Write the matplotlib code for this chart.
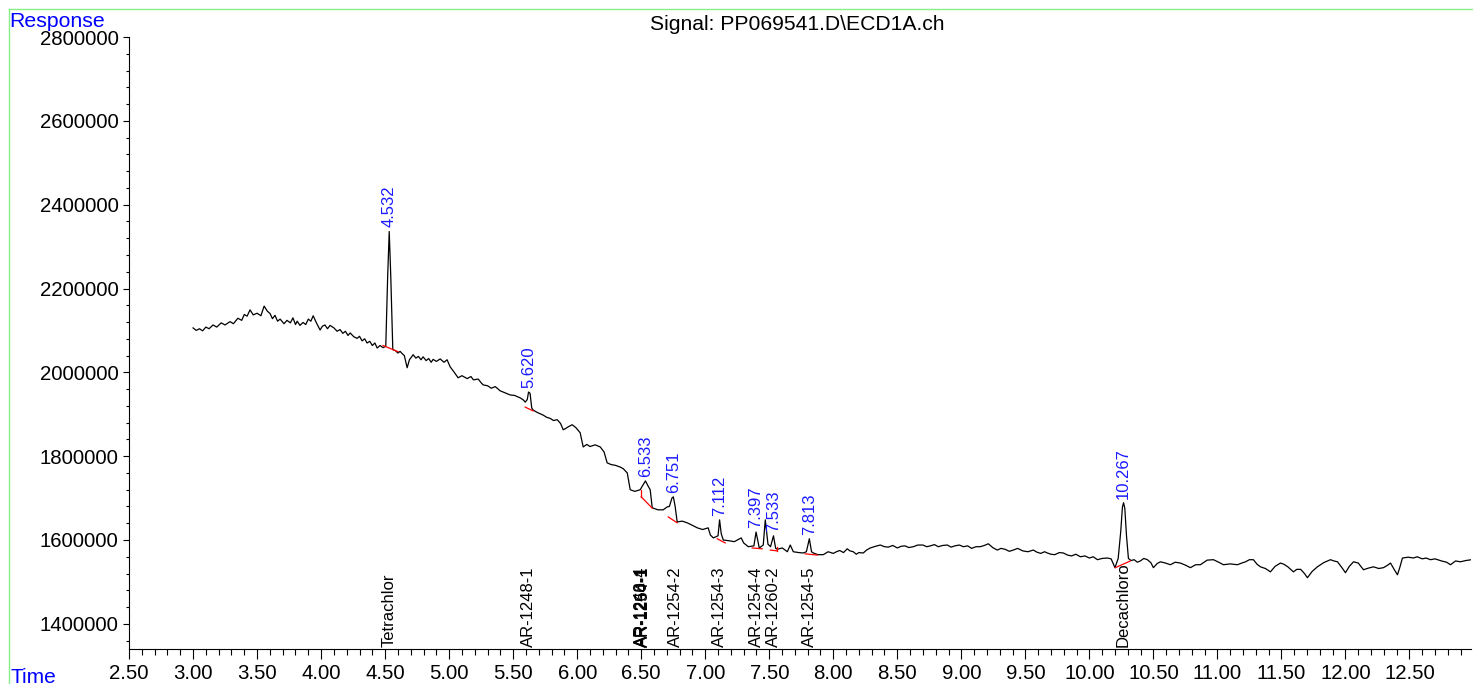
import matplotlib
matplotlib.use("Agg")
import matplotlib.pyplot as plt
from matplotlib.lines import Line2D
from matplotlib.ticker import MultipleLocator, FormatStrFormatter

plt.rcParams["font.family"] = ["Liberation Sans", "DejaVu Sans"]

# chromatogram trace: (retention time min, response in thousands)
trace = [
    (3.000, 2106), (3.025, 2100), (3.050, 2104), (3.075, 2099), (3.100, 2108),
    (3.125, 2104), (3.156, 2113), (3.185, 2108), (3.220, 2118), (3.250, 2113),
    (3.289, 2121), (3.315, 2116), (3.350, 2129), (3.380, 2124), (3.400, 2138),
    (3.422, 2134), (3.445, 2149), (3.470, 2137), (3.500, 2141), (3.530, 2135),
    (3.555, 2158), (3.580, 2146), (3.602, 2140), (3.620, 2128), (3.640, 2136),
    (3.660, 2122), (3.680, 2127), (3.710, 2116), (3.734, 2124), (3.760, 2118),
    (3.780, 2130), (3.800, 2114), (3.813, 2122), (3.835, 2112), (3.859, 2119),
    (3.880, 2114), (3.900, 2127), (3.920, 2122), (3.938, 2135), (3.965, 2117),
    (3.992, 2101), (4.010, 2110), (4.030, 2113), (4.050, 2104), (4.070, 2112),
    (4.100, 2106), (4.125, 2098), (4.148, 2102), (4.170, 2093), (4.190, 2098),
    (4.210, 2088), (4.227, 2094), (4.255, 2085), (4.281, 2081), (4.300, 2086),
    (4.320, 2075), (4.340, 2080), (4.359, 2070), (4.380, 2074), (4.400, 2064),
    (4.420, 2070), (4.438, 2058), (4.460, 2064), (4.484, 2059), (4.505, 2062),
    (4.520, 2230), (4.532, 2336), (4.544, 2230), (4.560, 2054), (4.580, 2052),
    (4.600, 2046), (4.617, 2050), (4.635, 2044), (4.650, 2040), (4.672, 2011),
    (4.690, 2030), (4.719, 2042), (4.740, 2034), (4.760, 2038), (4.780, 2030),
    (4.797, 2037), (4.820, 2028), (4.840, 2033), (4.860, 2024), (4.875, 2031),
    (4.900, 2026), (4.930, 2032), (4.960, 2024), (4.984, 2030), (5.008, 2013),
    (5.040, 2000), (5.070, 1987), (5.100, 1992), (5.141, 1985), (5.170, 1990),
    (5.190, 1982), (5.227, 1984), (5.250, 1975), (5.266, 1970), (5.300, 1968),
    (5.330, 1962), (5.360, 1966), (5.398, 1956), (5.430, 1952), (5.477, 1946),
    (5.510, 1945), (5.555, 1939), (5.580, 1934), (5.594, 1929), (5.610, 1935),
    (5.620, 1953), (5.632, 1950), (5.645, 1915), (5.656, 1910), (5.690, 1904),
    (5.734, 1898), (5.760, 1893), (5.790, 1890), (5.815, 1885), (5.844, 1887),
    (5.870, 1878), (5.891, 1863), (5.910, 1866), (5.930, 1870), (5.961, 1875),
    (5.990, 1868), (6.023, 1856), (6.047, 1822), (6.075, 1828), (6.100, 1823),
    (6.140, 1827), (6.180, 1822), (6.210, 1810), (6.234, 1784), (6.265, 1780),
    (6.300, 1778), (6.336, 1774), (6.360, 1770), (6.391, 1760), (6.414, 1720),
    (6.450, 1716), (6.492, 1720), (6.533, 1741), (6.555, 1728), (6.570, 1720),
    (6.586, 1677), (6.630, 1672), (6.672, 1672), (6.703, 1679), (6.720, 1680),
    (6.740, 1700), (6.751, 1703), (6.765, 1680), (6.781, 1643), (6.820, 1645),
    (6.859, 1641), (6.900, 1635), (6.938, 1629), (6.980, 1625), (7.023, 1629),
    (7.040, 1612), (7.063, 1605), (7.100, 1610), (7.112, 1648), (7.125, 1615),
    (7.141, 1600), (7.190, 1598), (7.227, 1596), (7.281, 1605), (7.300, 1593),
    (7.336, 1584), (7.380, 1586), (7.397, 1619), (7.422, 1581), (7.453, 1588),
    (7.469, 1648), (7.490, 1590), (7.510, 1584), (7.533, 1610), (7.550, 1580),
    (7.563, 1578), (7.602, 1581), (7.641, 1572), (7.664, 1588), (7.688, 1572),
    (7.730, 1570), (7.766, 1569), (7.790, 1572), (7.813, 1603), (7.830, 1572),
    (7.844, 1569), (7.880, 1565), (7.922, 1565), (7.960, 1572), (8.000, 1568),
    (8.025, 1572), (8.050, 1575), (8.080, 1570), (8.109, 1579), (8.130, 1574),
    (8.156, 1572), (8.180, 1566), (8.200, 1570), (8.234, 1569), (8.260, 1576),
    (8.289, 1581), (8.330, 1585), (8.367, 1588), (8.400, 1584), (8.430, 1583),
    (8.465, 1587), (8.500, 1581), (8.530, 1585), (8.560, 1586), (8.590, 1582),
    (8.625, 1584), (8.660, 1588), (8.700, 1588), (8.730, 1584), (8.758, 1586),
    (8.790, 1589), (8.820, 1584), (8.855, 1587), (8.891, 1588), (8.920, 1583),
    (8.950, 1586), (8.985, 1588), (9.016, 1584), (9.050, 1586), (9.080, 1580),
    (9.115, 1584), (9.148, 1584), (9.180, 1587), (9.211, 1591), (9.245, 1582),
    (9.281, 1576), (9.310, 1580), (9.340, 1578), (9.375, 1573), (9.406, 1576),
    (9.440, 1580), (9.480, 1574), (9.520, 1572), (9.563, 1576), (9.590, 1571),
    (9.620, 1568), (9.650, 1572), (9.672, 1569), (9.700, 1566), (9.730, 1565),
    (9.765, 1570), (9.797, 1569), (9.830, 1564), (9.860, 1562), (9.895, 1566),
    (9.930, 1560), (9.965, 1562), (10.000, 1557), (10.030, 1560), (10.063, 1553),
    (10.100, 1556), (10.141, 1557), (10.170, 1555), (10.200, 1534), (10.225, 1556),
    (10.245, 1620), (10.258, 1678), (10.267, 1689), (10.277, 1675), (10.290, 1610),
    (10.305, 1556), (10.325, 1551), (10.350, 1553), (10.375, 1547), (10.398, 1550),
    (10.425, 1556), (10.453, 1553), (10.480, 1546), (10.500, 1534), (10.530, 1544),
    (10.555, 1548), (10.595, 1545), (10.633, 1541), (10.670, 1547), (10.711, 1545),
    (10.750, 1540), (10.789, 1534), (10.830, 1541), (10.867, 1541), (10.920, 1552),
    (10.969, 1553), (11.010, 1547), (11.047, 1541), (11.100, 1543), (11.156, 1541),
    (11.190, 1545), (11.220, 1548), (11.250, 1553), (11.281, 1553), (11.310, 1542),
    (11.336, 1536), (11.375, 1532), (11.414, 1524), (11.450, 1537), (11.492, 1545),
    (11.520, 1542), (11.550, 1536), (11.594, 1524), (11.620, 1530), (11.650, 1530),
    (11.680, 1520), (11.703, 1510), (11.740, 1525), (11.781, 1536), (11.830, 1546),
    (11.883, 1553), (11.910, 1550), (11.938, 1548), (11.970, 1535), (12.000, 1522),
    (12.030, 1537), (12.063, 1548), (12.100, 1545), (12.141, 1529), (12.180, 1533),
    (12.219, 1536), (12.260, 1532), (12.297, 1534), (12.330, 1540), (12.352, 1545),
    (12.380, 1530), (12.406, 1517), (12.425, 1535), (12.445, 1557), (12.490, 1559),
    (12.531, 1557), (12.560, 1560), (12.600, 1555), (12.630, 1557), (12.664, 1553),
    (12.700, 1555), (12.750, 1550), (12.790, 1547), (12.820, 1541), (12.860, 1550),
    (12.898, 1548), (12.940, 1551), (12.984, 1553),
]
time_min = [t for t, r in trace]
response = [r * 1000 for t, r in trace]

# integrated peaks: apex time and apex response (thousands)
peak_rt = [4.532, 5.620, 6.533, 6.751, 7.112, 7.397, 7.533, 7.813, 10.267]
peak_top_k = [2336, 1953, 1741, 1703, 1648, 1619, 1610, 1603, 1689]

# integration baselines (start time, start resp, end time, end resp)
base_t0 = [4.484, 5.594, 6.500, 6.500, 6.711, 7.094, 7.367, 7.508, 7.563, 7.781, 10.203]
base_r0 = [2064, 1917, 1720, 1703, 1655, 1603, 1581, 1576, 1574, 1567, 1534]
base_t1 = [4.602, 5.656, 6.500, 6.586, 6.781, 7.156, 7.445, 7.563, 7.563, 7.875, 10.320]
base_r1 = [2049, 1908, 1703, 1676, 1641, 1593, 1579, 1574, 1583, 1564, 1550]

# compound names at expected retention times
cmp_names = ["Tetrachlor", "AR-1248-1", "AR-1248-4", "AR-1260-1", "AR-1254-1",
             "AR-1254-2", "AR-1254-3", "AR-1254-4", "AR-1260-2", "AR-1254-5",
             "Decachloro"]
cmp_rt = [4.532, 5.620, 6.505, 6.510, 6.515, 6.765, 7.112, 7.397, 7.533, 7.813, 10.262]

fig = plt.figure(figsize=(14.73, 6.84), dpi=100)
ax = fig.add_axes([0.0876, 0.0512, 0.911, 0.8947])

ax.plot(time_min, response, color="black", linewidth=0.9)
for t0, r0, t1, r1 in zip(base_t0, base_r0, base_t1, base_r1):
    ax.plot([t0, t1], [r0 * 1000, r1 * 1000], color="red", linewidth=0.9)

blue = "#1a1aff"
for rt, top in zip(peak_rt, peak_top_k):
    ax.annotate(f"{rt:.3f}", (rt, top * 1000), xytext=(0, 3), textcoords="offset points",
                rotation=90, ha="center", va="bottom", color=blue, fontsize=12)

for name, rt in zip(cmp_names, cmp_rt):
    ax.annotate(name, (rt, 1340000), xytext=(0, 1.5), textcoords="offset points",
                rotation=90, ha="center", va="bottom", color="black", fontsize=12)

ax.set_xlim(2.5, 12.98)
ax.set_ylim(1340000, 2800000)
ax.xaxis.set_major_locator(MultipleLocator(0.5))
ax.xaxis.set_minor_locator(MultipleLocator(0.1))
ax.xaxis.set_major_formatter(FormatStrFormatter("%.2f"))
ax.yaxis.set_major_locator(MultipleLocator(200000))
ax.yaxis.set_minor_locator(MultipleLocator(40000))
ax.yaxis.set_major_formatter(FormatStrFormatter("%d"))
ax.tick_params(axis="both", labelsize=14.7, width=0.8, direction="out")
ax.tick_params(axis="x", which="major", length=7)
ax.tick_params(axis="x", which="minor", length=4, width=0.8)
ax.tick_params(axis="y", which="major", length=4)
ax.tick_params(axis="y", which="minor", length=2, width=0.8)
for side in ["top", "right"]:
    ax.spines[side].set_visible(False)
for side in ["left", "bottom"]:
    ax.spines[side].set_linewidth(0.8)

# frame and header texts
green = "#88ee88"
fig.add_artist(Line2D([0.006, 1.0], [0.987, 0.987], color=green, linewidth=1))
fig.add_artist(Line2D([0.006, 0.006], [0.0, 0.987], color=green, linewidth=1))
fig.text(0.006, 0.982, "Response", color="blue", fontsize=15.3, ha="left", va="top")
fig.text(0.007, -0.004, "Time", color="blue", fontsize=15, ha="left", va="bottom")
fig.text(0.541, 0.978, "Signal: PP069541.D\\ECD1A.ch", fontsize=15.2, ha="center", va="top")

fig.savefig("out.png", dpi=100)
